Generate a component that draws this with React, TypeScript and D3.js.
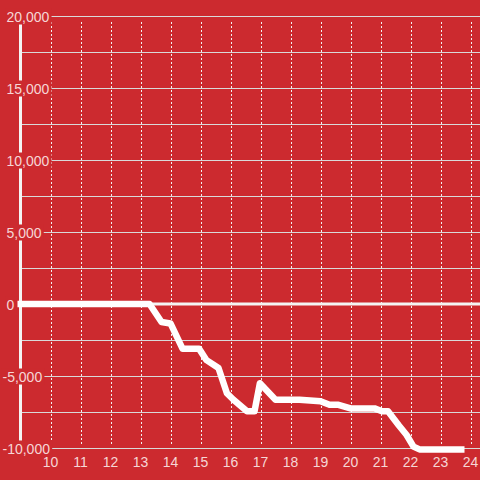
import React, { useEffect, useRef } from "react";
import * as d3 from "d3";

const hours = [8.9, 13.3, 13.7, 14.0, 14.4, 14.95, 15.2, 15.6, 15.88, 16.1, 16.55, 16.8, 16.98, 17.5, 18.3, 19.0, 19.3, 19.6, 20.0, 20.8, 21.05, 21.25, 21.6, 21.87, 22.1, 22.3, 23.8];
const values = [0, 0, -1250, -1350, -3100, -3100, -3900, -4450, -6200, -6650, -7450, -7450, -5500, -6650, -6650, -6750, -7000, -7000, -7250, -7250, -7450, -7450, -8400, -9100, -9900, -10100, -10100];
const xTicks = [10, 11, 12, 13, 14, 15, 16, 17, 18, 19, 20, 21, 22, 23, 24];
const yLabelTicks = [20000, 15000, 10000, 5000, 0, -5000, -10000];
const yGridTicks = [20000, 17500, 15000, 12500, 10000, 7500, 5000, 2500, 0, -2500, -5000, -7500, -10000];

const BG = "#cc2a2f";
const TEXT = "#f6d6d6";
const FONT = "'Liberation Sans', Arial, sans-serif";

export default function App() {
  const ref = useRef<SVGSVGElement | null>(null);

  useEffect(() => {
    const svg = d3.select(ref.current);
    svg.selectAll("*").remove();
    const x = d3.scaleLinear().domain([10, 24]).range([50.5, 470.5]);
    const y = d3.scaleLinear().domain([-10000, 20000]).range([448, 16]);
    const axisX = 20.5;

    svg.append("rect").attr("width", 480).attr("height", 480).attr("fill", BG);

    // horizontal grid
    svg.append("g").selectAll("line").data(yGridTicks.filter((d) => d !== 0)).join("line")
      .attr("x1", axisX).attr("x2", 480)
      .attr("y1", (d) => y(d)).attr("y2", (d) => y(d))
      .attr("stroke", "#d9d9d9").attr("stroke-width", 1).attr("shape-rendering", "crispEdges");

    // vertical dotted grid
    svg.append("g").selectAll("line").data(xTicks).join("line")
      .attr("x1", (d) => Math.round(x(d)) + 0.5).attr("x2", (d) => Math.round(x(d)) + 0.5)
      .attr("y1", y(20000) + 6).attr("y2", y(-10000) - 2)
      .attr("stroke", "#f2f2f2").attr("stroke-width", 1).attr("stroke-dasharray", "2,2");

    // zero line
    svg.append("line").attr("x1", axisX).attr("x2", 480).attr("y1", y(0)).attr("y2", y(0))
      .attr("stroke", "#f4f4f4").attr("stroke-width", 3);

    // y axis line
    svg.append("line").attr("x1", axisX).attr("x2", axisX).attr("y1", y(20000)).attr("y2", y(-10000))
      .attr("stroke", "#f4f4f4").attr("stroke-width", 3);

    // data line
    const line = d3.line<number>().x((_, i) => x(hours[i])).y((d) => y(d));
    svg.append("path").datum(values).attr("d", line as any)
      .attr("fill", "none").attr("stroke", "#ffffff").attr("stroke-width", 6.5)
      .attr("stroke-linejoin", "round").attr("stroke-linecap", "butt");

    // y labels with background
    const fmt = d3.format(",");
    const lg = svg.append("g");
    yLabelTicks.forEach((v) => {
      const g = lg.append("g");
      const rect = g.append("rect").attr("fill", BG);
      const t = g.append("text")
        .attr("x", v < 0 ? 2.5 : 6.5)
        .attr("y", y(v) + 5.5)
        .attr("fill", TEXT).attr("font-family", FONT).attr("font-size", 14)
        .text(v < 0 ? "-" + fmt(-v) : fmt(v));
      const bb = (t.node() as SVGTextElement).getBBox();
      rect.attr("x", bb.x - 1).attr("y", bb.y).attr("width", bb.width + 3).attr("height", bb.height);
    });

    // x labels
    svg.append("g").selectAll("text").data(xTicks).join("text")
      .attr("x", (d) => x(d)).attr("y", 466.5).attr("text-anchor", "middle")
      .attr("fill", TEXT).attr("font-family", FONT).attr("font-size", 14)
      .text((d) => String(d));
  }, []);

  return (
    <svg ref={ref} width={480} height={480}
      style={{ position: "absolute", left: 0, top: 0, display: "block" }} />
  );
}
